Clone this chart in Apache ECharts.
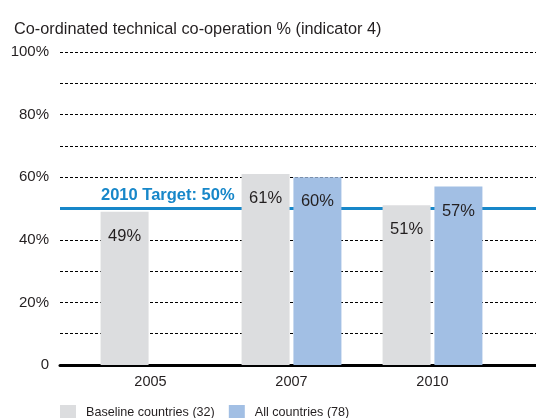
<!DOCTYPE html>
<html>
<head>
<meta charset="utf-8">
<script src="https://cdn.jsdelivr.net/npm/echarts@6/dist/echarts.min.js"></script>
<style>html,body{margin:0;padding:0;background:#fff;}#c{width:536px;height:418px;}</style>
</head>
<body>
<div id="c"></div>
<script>
const categories = ['2005', '2007', '2010'];
const baselineValues = [49, 61, 51];
const allCountriesValues = [null, 60, 57];
const targetValue = 50;
const targetLabel = '2010 Target: 50%';
const seriesNames = ['Baseline countries (32)', 'All countries (78)'];
const titleText = 'Co-ordinated technical co-operation % (indicator 4)';

const FONT = "'Liberation Sans', Arial, sans-serif";
const TXT = '#231f20';

const chart = echarts.init(document.getElementById('c'), null, { renderer: 'canvas' });
chart.setOption({
  animation: false,
  backgroundColor: '#fff',
  textStyle: { fontFamily: FONT },
  title: {
    text: titleText, left: 9, top: 17,
    textStyle: { fontFamily: FONT, fontSize: 16.3, fontWeight: 'normal', color: TXT }
  },
  legend: {
    left: 55, top: 400, itemWidth: 16, itemHeight: 16, itemGap: 14,
    icon: 'rect',
    data: seriesNames,
    textStyle: { fontFamily: FONT, fontSize: 12.6, color: TXT, padding: [0, 0, 0, 5] }
  },
  grid: [
    { left: 60, right: 0, top: 52, bottom: 53 },
    { left: 80, right: 33, top: 52, bottom: 53 }
  ],
  xAxis: [
    {
      gridIndex: 0, type: 'value', min: 0, max: 1,
      axisLine: { show: true, onZero: true, lineStyle: { color: '#000', width: 3 } },
      axisTick: { show: false }, axisLabel: { show: false }, splitLine: { show: false }
    },
    {
      gridIndex: 1, type: 'category', data: categories,
      axisLine: { show: false }, axisTick: { show: false },
      axisLabel: { fontFamily: FONT, fontSize: 14.5, color: TXT, margin: 9 }
    }
  ],
  yAxis: [
    {
      gridIndex: 0, type: 'value', min: 0, max: 100, interval: 10,
      axisLine: { show: false }, axisTick: { show: false },
      axisLabel: {
        fontFamily: FONT, fontSize: 15, color: TXT, margin: 11,
        formatter: v => v === 0 ? '0' : (v % 20 === 0 ? v + '%' : '')
      },
      splitLine: { show: true, lineStyle: { color: '#000', width: 1, type: [3, 2] } }
    },
    {
      gridIndex: 1, type: 'value', min: 0, max: 100, show: false
    }
  ],
  series: [
    {
      type: 'line', xAxisIndex: 0, yAxisIndex: 0, data: [], silent: true,
      markLine: {
        silent: true, symbol: 'none', z: 1,
        lineStyle: { color: '#1787c9', width: 3, type: 'solid' },
        label: {
          show: true, position: 'insideStartTop', distance: [41, 5],
          formatter: targetLabel,
          fontFamily: FONT, fontSize: 16.5, fontWeight: 'bold', color: '#1787c9'
        },
        data: [{ yAxis: targetValue }]
      }
    },
    {
      name: seriesNames[0], type: 'bar', xAxisIndex: 1, yAxisIndex: 1,
      data: baselineValues, barWidth: 48, barGap: '8%', z: 3,
      itemStyle: { color: '#dcdddf' },
      label: { show: true, position: 'insideTop', distance: 16, formatter: '{c}%', fontFamily: FONT, fontSize: 16.5, color: TXT }
    },
    {
      name: seriesNames[1], type: 'bar', xAxisIndex: 1, yAxisIndex: 1,
      data: allCountriesValues, barWidth: 48, barGap: '8%', z: 3,
      itemStyle: { color: '#a2bfe4' },
      label: { show: true, position: 'insideTop', distance: 16, formatter: '{c}%', fontFamily: FONT, fontSize: 16.5, color: TXT }
    }
  ]
});
</script>
</body>
</html>
